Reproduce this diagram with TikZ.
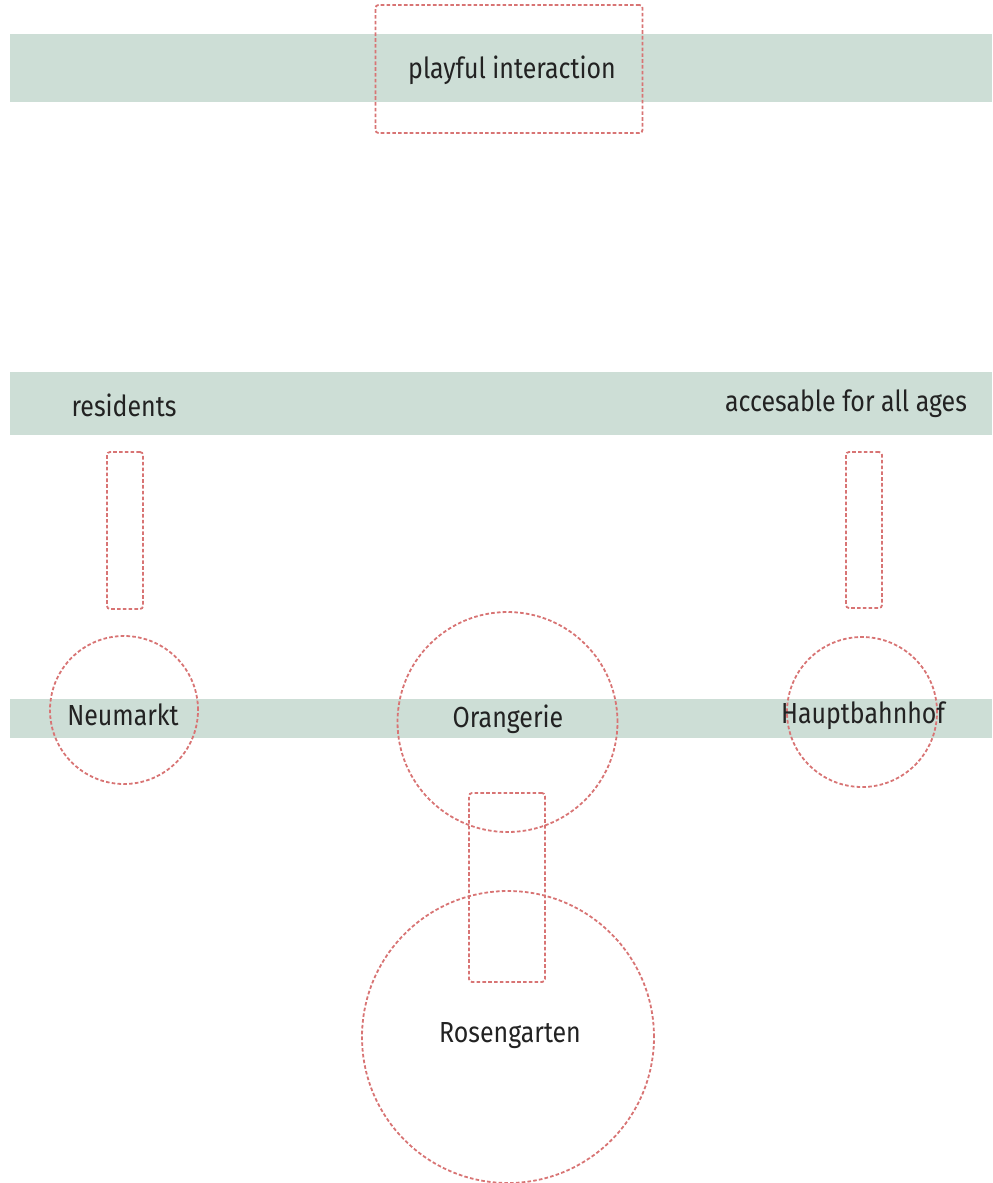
\documentclass[tikz,border=0pt]{standalone}
\usepackage{fontspec}
\setmainfont{Fira Sans}[FakeStretch=0.86]
\usetikzlibrary{positioning}
\definecolor{bandgreen}{HTML}{CDDED6}
\definecolor{dashred}{HTML}{D87474}
\definecolor{inkgray}{HTML}{222222}
\tikzstyle{band} = [rectangle, fill=bandgreen, draw=none, inner sep=0pt, outer sep=0pt, minimum width=491pt]
\tikzstyle{frame} = [rectangle, rounded corners=1.5pt, draw=dashred, line width=0.9pt, dash pattern=on 1.8pt off 1.1pt, inner sep=0pt]
\tikzstyle{place} = [circle, draw=dashred, line width=0.9pt, dash pattern=on 1.8pt off 1.1pt, inner sep=0pt]
\tikzstyle{label} = [text=inkgray, font=\fontsize{14.5}{16}\selectfont, inner sep=0pt]

\begin{document}
\begin{tikzpicture}[x=0.5pt, y=-0.5pt]
			\useasboundingbox (0,0) rectangle (992,1183);
			% green bands
			\node (topband) [band, minimum height=34pt] at (501,68) {};
			\node (midband) [band, minimum height=31.5pt] at (501,403.5) {};
			\node (lowband) [band, minimum height=19.5pt] at (501,718.5) {};
			
			% dashed frames
			\node (playframe) [frame, minimum width=133.5pt, minimum height=64pt] at (509,69) {};
			\node (resframe) [frame, minimum width=18pt, minimum height=78.5pt] at (125,530.5) {};
			\node (ageframe) [frame, minimum width=18pt, minimum height=78pt] at (864,530) {};
			\node (linkframe) [frame, minimum width=38pt, minimum height=94.5pt] at (507,887.5) {};
			
			% places
			\node (neumarkt) [place, minimum size=74pt] at (124,710) {};
			\node (orangerie) [place, minimum size=110pt] at (507.5,722) {};
			\node (hbf) [place, minimum size=75pt] at (862,712) {};
			\node (rosengarten) [place, minimum size=146pt] at (508,1037) {};
			
			% texts
			\node (play) [label] at (512,70) {playful interaction};
			\node (residents) [label] at (124,405) {residents};
			\node (ages) [label] at (846,404) {accesable for all ages};
			\node (neutext) [label] at (123,715) {Neumarkt};
			\node (oratext) [label] at (508,719) {Orangerie};
			\node (hbftext) [label] at (863,716) {Hauptbahnhof};
			\node (rostext) [label] at (510,1036) {Rosengarten};
		\end{tikzpicture}
\end{document}
